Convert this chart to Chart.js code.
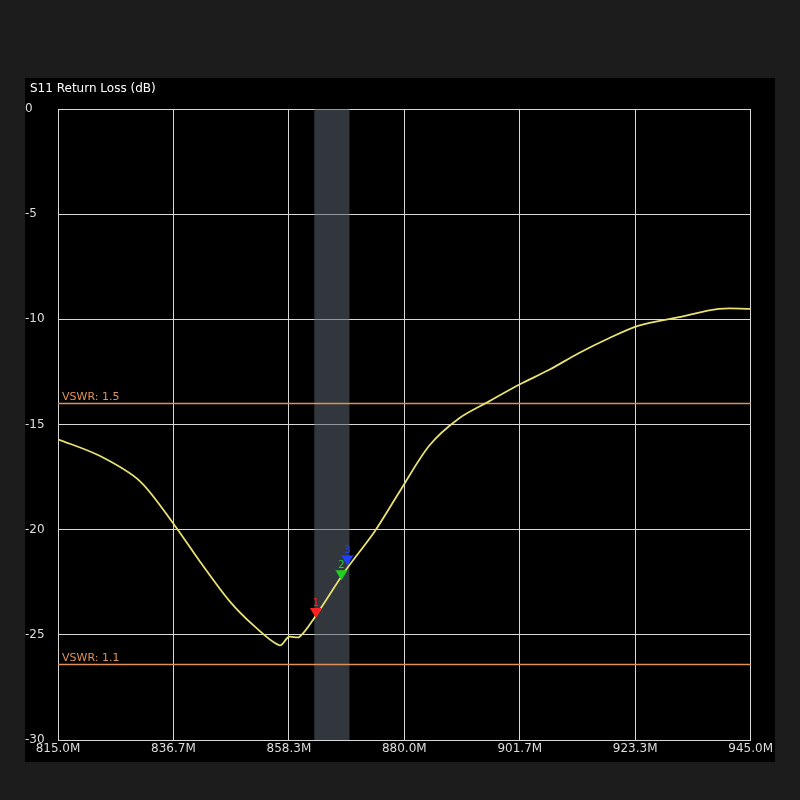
<!DOCTYPE html>
<html><head><meta charset="utf-8">
<script src="https://cdn.jsdelivr.net/npm/chart.js@4"></script>
<style>
html,body{margin:0;padding:0;background:#1c1c1c;width:800px;height:800px;overflow:hidden}
#box{position:absolute;left:25px;top:78px;width:750px;height:684px;background:#000}
</style></head><body>
<div id="box"><canvas id="c" width="750" height="684"></canvas></div>
<script>
const freqs=[815,822.9,830.4,836.9,841.6,847.2,851.9,856.6,858.3,860.3,863.1,868.8,874.4,879.1,884.7,890.3,895.9,901.6,907.2,912.8,918.4,924.0,931.5,939.0,945];
const s11=[-15.7,-16.5,-17.7,-19.8,-21.5,-23.4,-24.6,-25.5,-25.1,-25.1,-24.2,-22.0,-20.1,-18.2,-16.0,-14.7,-13.9,-13.1,-12.4,-11.6,-10.9,-10.3,-9.9,-9.5,-9.5];
const xTicks=[815,836.667,858.333,880,901.667,923.333,945];
const xTickLabels=['815.0M','836.7M','858.3M','880.0M','901.7M','923.3M','945.0M'];
const yTicks=[0,-5,-10,-15,-20,-25,-30];
const vswrLabels=['VSWR: 1.5','VSWR: 1.1'];
const vswrDb=[-13.98,-26.4];
const band=[863.1,869.7];
const markerNames=['1','2','3'];
const markerFreq=[863.4,868.2,869.3];
const markerDb=[-24.2,-22.4,-21.7];
const markerColors=['#ff2020','#20d020','#2040ff'];

const deco={id:'deco',
beforeDatasetsDraw(ch){const {ctx,scales:{x,y},chartArea:a}=ch;
 ctx.save();ctx.fillStyle='rgba(90,100,110,0.55)';
 const x0=x.getPixelForValue(band[0]),x1=x.getPixelForValue(band[1]);
 ctx.fillRect(x0,a.top,x1-x0,a.bottom-a.top);
 ctx.strokeStyle='#e0915a';ctx.lineWidth=1.3;ctx.fillStyle='#e0915a';ctx.font='11px "DejaVu Sans"';ctx.textBaseline='bottom';
 vswrDb.forEach((v,i)=>{const py=Math.round(y.getPixelForValue(v))+0.5;ctx.beginPath();ctx.moveTo(a.left,py);ctx.lineTo(a.right,py);ctx.stroke();ctx.fillText(vswrLabels[i],a.left+4,py-1);});
 ctx.restore();},
afterDatasetsDraw(ch){const {ctx,scales:{x,y}}=ch;ctx.save();
 ctx.font='10px "DejaVu Sans"';ctx.textAlign='center';ctx.textBaseline='bottom';
 markerFreq.forEach((f,i)=>{const px=x.getPixelForValue(f),py=y.getPixelForValue(markerDb[i]);
  ctx.fillStyle=markerColors[i];ctx.beginPath();ctx.moveTo(px,py);ctx.lineTo(px-6,py-10);ctx.lineTo(px+6,py-10);ctx.closePath();ctx.fill();
  ctx.fillText(markerNames[i],px,py-10);});
 ctx.fillStyle='#fff';ctx.font='12px "DejaVu Sans"';ctx.textAlign='left';ctx.textBaseline='middle';
 ctx.fillText('S11 Return Loss (dB)',5,11);
 ctx.restore();}};

new Chart(document.getElementById('c'),{type:'line',
data:{datasets:[{data:freqs.map((f,i)=>({x:f,y:s11[i]})),borderColor:'#e8e070',borderWidth:1.8,pointRadius:0,tension:0.3}]},
options:{responsive:false,animation:false,layout:{padding:{top:31,right:23,left:0,bottom:0}},
plugins:{legend:{display:false},tooltip:{enabled:false}},
scales:{
 x:{type:'linear',min:815,max:945,afterBuildTicks(s){s.ticks=xTicks.map(v=>({value:v}));},
  afterFit(s){s.height=22;},
  ticks:{color:'#ddd',font:{size:12,family:'DejaVu Sans'},padding:2,maxRotation:0,autoSkip:false,callback:(v,i)=>xTickLabels[i]},
  grid:{color:'#d8d8d8',lineWidth:1,drawTicks:false},border:{color:'#d8d8d8'}},
 y:{min:-30,max:0,afterBuildTicks(s){s.ticks=yTicks.map(v=>({value:v}));},
  afterFit(s){s.width=33;},
  ticks:{color:'#ddd',font:{size:12,family:'DejaVu Sans'},padding:4,align:'center',crossAlign:'far',callback:v=>String(v)},
  grid:{color:'#d8d8d8',lineWidth:1,drawTicks:false},border:{color:'#d8d8d8'}}}},
plugins:[deco]});
</script></body></html>
